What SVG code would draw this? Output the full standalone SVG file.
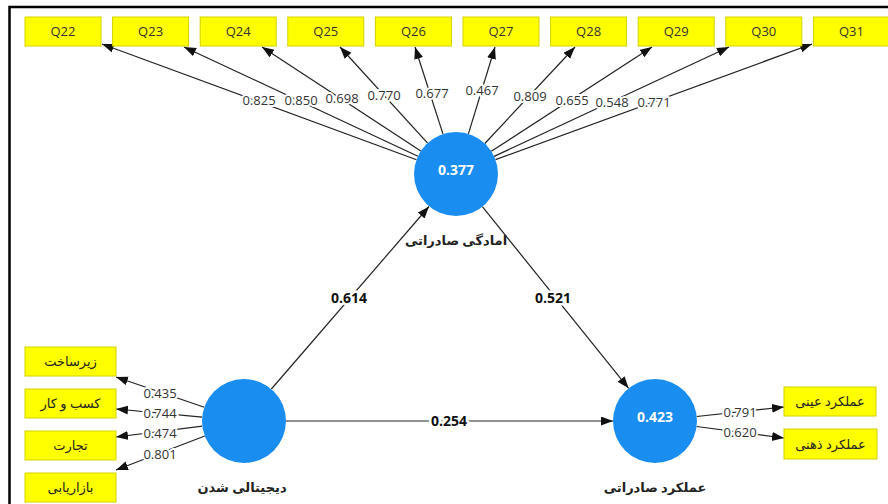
<svg xmlns="http://www.w3.org/2000/svg" width="888" height="504" viewBox="0 0 888 504">
<style>
.box{fill:#ffff00;stroke:#d2d200;stroke-width:1}
.bt{font-family:"Open Sans","Noto Sans","DejaVu Sans",sans-serif;font-size:13px;fill:#333;text-anchor:middle}
.fa{font-family:"Noto Sans","DejaVu Sans",sans-serif;font-size:13px;fill:#222;text-anchor:middle}
.nl{font-family:"Noto Sans","DejaVu Sans",sans-serif;font-size:13px;font-weight:bold;fill:#222;text-anchor:middle}
.lv{fill:#1a8df0}
.val{font-family:"Open Sans","Noto Sans",sans-serif;font-size:14px;font-weight:bold;fill:#fff;text-anchor:middle}
.ln{stroke:#222;stroke-width:1.2;fill:none;marker-end:url(#ah)}
.lbl{font-family:"Open Sans","Noto Sans",sans-serif;font-size:13px;fill:#333;text-anchor:middle;stroke:#fff;stroke-width:4;paint-order:stroke;stroke-linejoin:round}
.pl{font-family:"Open Sans","Noto Sans",sans-serif;font-size:14px;font-weight:bold;fill:#111;text-anchor:middle;stroke:#fff;stroke-width:5;paint-order:stroke;stroke-linejoin:round}
</style>
<defs>
<marker id="ah" markerUnits="userSpaceOnUse" markerWidth="13" markerHeight="10" refX="12" refY="4.5" orient="auto">
<path d="M0,0 L12,4.5 L0,9 z" fill="#111"/>
</marker>
</defs>
<rect width="888" height="504" fill="#fff"/>
<path d="M9.5,504 V7 H888" fill="none" stroke="#000" stroke-width="2.5"/>

<g id="connectors">
<line class="ln" x1="416.5" y1="159.8" x2="102" y2="44"/>
<line class="ln" x1="417.9" y1="156.3" x2="184" y2="47"/>
<line class="ln" x1="420.8" y1="151.1" x2="262" y2="47"/>
<line class="ln" x1="427.6" y1="143.1" x2="340" y2="47"/>
<line class="ln" x1="443.0" y1="134.1" x2="415" y2="47"/>
<line class="ln" x1="468.4" y1="133.9" x2="495" y2="47"/>
<line class="ln" x1="484.8" y1="143.5" x2="575" y2="47"/>
<line class="ln" x1="491.3" y1="151.3" x2="652" y2="47"/>
<line class="ln" x1="494.1" y1="156.4" x2="729" y2="47"/>
<line class="ln" x1="495.5" y1="159.6" x2="812" y2="44"/>
<line class="ln" x1="204.3" y1="407.3" x2="116" y2="377"/>
<line class="ln" x1="202.2" y1="417.1" x2="116" y2="409"/>
<line class="ln" x1="202.3" y1="426.2" x2="116" y2="437"/>
<line class="ln" x1="204.8" y1="436.0" x2="116" y2="470"/>
<line class="ln" x1="696.7" y1="416.5" x2="784" y2="407"/>
<line class="ln" x1="696.6" y1="426.5" x2="784" y2="438"/>
<line class="ln" x1="271.4" y1="389" x2="429" y2="206.5"/>
<line class="ln" x1="482.4" y1="206.7" x2="628.6" y2="388.3"/>
<line class="ln" x1="286" y1="421" x2="613" y2="421"/>
<text class="lbl" x="259" y="104.5">0.825</text>
<text class="lbl" x="301" y="104.5">0.850</text>
<text class="lbl" x="342" y="102.5">0.698</text>
<text class="lbl" x="384" y="99.5">0.770</text>
<text class="lbl" x="432" y="97.5">0.677</text>
<text class="lbl" x="482" y="94.5">0.467</text>
<text class="lbl" x="530" y="100.5">0.809</text>
<text class="lbl" x="572" y="104.5">0.655</text>
<text class="lbl" x="612" y="106.5">0.548</text>
<text class="lbl" x="654" y="106.5">0.771</text>
<text class="lbl" x="160" y="397.5">0.435</text>
<text class="lbl" x="160" y="417.5">0.744</text>
<text class="lbl" x="160" y="438">0.474</text>
<text class="lbl" x="160" y="459">0.801</text>
<text class="lbl" x="740" y="416.5">0.791</text>
<text class="lbl" x="740" y="436.5">0.620</text>
<text class="pl" x="349" y="303">0.614</text>
<text class="pl" x="553" y="303">0.521</text>
<text class="pl" x="449" y="426">0.254</text>
</g>

<g id="q22"><rect class="box" x="25" y="17" width="76" height="29"/><text class="bt" x="63" y="36">Q22</text></g>
<g id="q23"><rect class="box" x="112.6" y="17" width="76" height="29"/><text class="bt" x="150.6" y="36">Q23</text></g>
<g id="q24"><rect class="box" x="200.2" y="17" width="76" height="29"/><text class="bt" x="238.2" y="36">Q24</text></g>
<g id="q25"><rect class="box" x="287.8" y="17" width="76" height="29"/><text class="bt" x="325.8" y="36">Q25</text></g>
<g id="q26"><rect class="box" x="375.4" y="17" width="76" height="29"/><text class="bt" x="413.4" y="36">Q26</text></g>
<g id="q27"><rect class="box" x="463" y="17" width="76" height="29"/><text class="bt" x="501" y="36">Q27</text></g>
<g id="q28"><rect class="box" x="550.6" y="17" width="76" height="29"/><text class="bt" x="588.6" y="36">Q28</text></g>
<g id="q29"><rect class="box" x="638.2" y="17" width="76" height="29"/><text class="bt" x="676.2" y="36">Q29</text></g>
<g id="q30"><rect class="box" x="725.8" y="17" width="76" height="29"/><text class="bt" x="763.8" y="36">Q30</text></g>
<g id="q31"><rect class="box" x="813.4" y="17" width="76" height="29"/><text class="bt" x="851.4" y="36">Q31</text></g>

<g id="zirsakht"><rect class="box" x="25" y="347" width="91" height="29"/><text class="fa" x="70.5" y="366">زیرساخت</text></g>
<g id="kasbokar"><rect class="box" x="25" y="389" width="91" height="29"/><text class="fa" x="70.5" y="408">کسب و کار</text></g>
<g id="tejarat"><rect class="box" x="25" y="431" width="91" height="29"/><text class="fa" x="70.5" y="450">تجارت</text></g>
<g id="bazaryabi"><rect class="box" x="25" y="473" width="91" height="29"/><text class="fa" x="70.5" y="492">بازاریابی</text></g>

<g id="eyni"><rect class="box" x="784" y="387" width="92" height="29"/><text class="fa" x="830" y="406">عملکرد عینی</text></g>
<g id="zehni"><rect class="box" x="784" y="429" width="93" height="30"/><text class="fa" x="830.5" y="448.5">عملکرد ذهنی</text></g>

<g id="amadegi"><circle class="lv" cx="456" cy="174" r="42"/><text class="val" x="456" y="175">0.377</text><text class="nl" x="456" y="245">امادگی صادراتی</text></g>
<g id="digital"><circle class="lv" cx="244" cy="421" r="42"/><text class="nl" x="242" y="492">دیجیتالی شدن</text></g>
<g id="amalkard"><circle class="lv" cx="655" cy="421" r="42"/><text class="val" x="655" y="422">0.423</text><text class="nl" x="655" y="492">عملکرد صادراتی</text></g>
</svg>
